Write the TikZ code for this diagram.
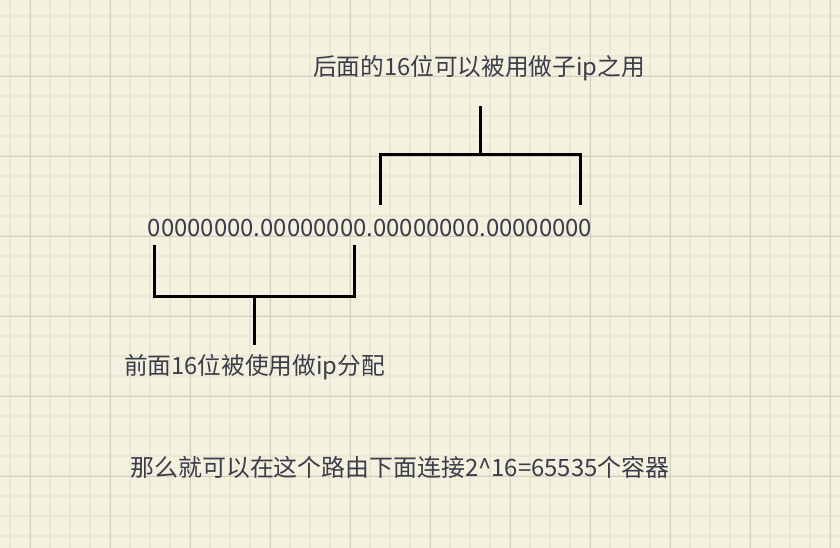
\documentclass[tikz,border=0pt]{standalone}
\usepackage{fontspec}
\setmainfont{Noto Sans CJK SC}
\usepackage{tikz}
\usepackage{xcolor}
\definecolor{paper_bg}{HTML}{F4F1DF}
\definecolor{grid_minor}{HTML}{EBE7D4}
\definecolor{grid_major}{HTML}{D2CEBF}
\definecolor{ink_gray}{HTML}{3A3D4A}

\begin{document}
\begin{tikzpicture}[x=1pt, y=-1pt]
	\useasboundingbox (0, 0) rectangle (840, 548);
	\fill[paper_bg] (0, 0) rectangle (840, 548);
	% grid
	\foreach \gx in {10, 30, ..., 830} \draw[grid_minor, line width=1.5pt] (\gx, 0) -- (\gx, 548);
	\foreach \gy in {16, 36, ..., 536} \draw[grid_minor, line width=1.5pt] (0, \gy) -- (840, \gy);
	\foreach \gx in {30, 110, ..., 830} \draw[grid_major, line width=0.9pt] (\gx, 0) -- (\gx, 548);
	\foreach \gy in {76, 156, ..., 536} \draw[grid_major, line width=0.9pt] (0, \gy) -- (840, \gy);
	% address and labels
	\node[ink_gray, font=\fontsize{23.9}{28}\selectfont] (addr) at (370, 228) {00000000.00000000.00000000.00000000};
	\node[ink_gray, font=\fontsize{23.7}{28}\selectfont] (hostlabel) at (479, 68) {后面的16位可以被用做子ip之用};
	\node[ink_gray, font=\fontsize{23.7}{28}\selectfont] (netlabel) at (254.5, 367) {前面16位被使用做ip分配};
	\node[ink_gray, font=\fontsize{23.9}{28}\selectfont] (note) at (400, 467) {那么就可以在这个路由下面连接2\^{}16=65535个容器};
	% upper bracket
	\coordinate (U1) at (380, 205);
	\coordinate (U2) at (580, 205);
	\coordinate (UT) at (480, 106);
	\draw[line width=3pt] (U1) -- (380, 155) -- (580, 155) -- (U2);
	\draw[line width=3pt] (480, 155) -- (UT);
	% lower bracket
	\coordinate (L1) at (154, 245);
	\coordinate (L2) at (354, 245);
	\coordinate (LB) at (254, 345);
	\draw[line width=3pt] (L1) -- (154, 296) -- (354, 296) -- (L2);
	\draw[line width=3pt] (254, 296) -- (LB);
\end{tikzpicture}
\end{document}
